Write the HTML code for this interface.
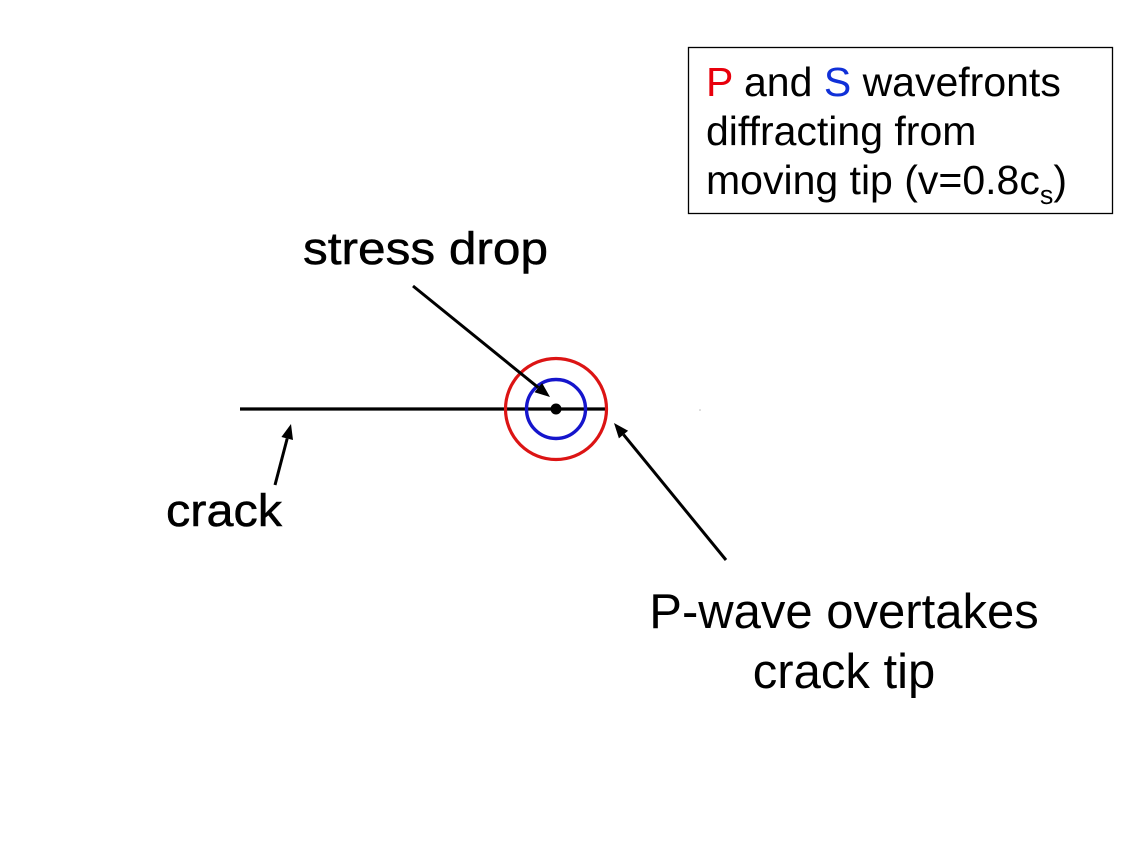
<!DOCTYPE html>
<html>
<head>
<meta charset="utf-8">
<style>
  html, body { margin: 0; padding: 0; background: #ffffff; }
  body { width: 1131px; height: 848px; overflow: hidden; }
  svg { display: block; }
  text { font-family: "Liberation Sans", Arial, sans-serif; fill: #000; }
</style>
</head>
<body>
<svg width="1131" height="848" viewBox="0 0 1131 848" xmlns="http://www.w3.org/2000/svg">
  <rect x="0" y="0" width="1131" height="848" fill="#ffffff"/>

  <!-- legend box -->
  <rect x="688.5" y="47.5" width="424" height="166" fill="none" stroke="#000" stroke-width="1.3"/>
  <text x="706" y="96" font-size="41"><tspan fill="#e8000c">P</tspan> and <tspan fill="#1030d8">S</tspan> wavefronts</text>
  <text x="706" y="145" font-size="41">diffracting from</text>
  <text x="706" y="194" font-size="41">moving tip (v=0.8c<tspan font-size="27" dy="10">s</tspan><tspan dy="-10">)</tspan></text>

  <!-- crack line -->
  <line x1="240" y1="409" x2="608" y2="409" stroke="#000" stroke-width="3.2"/>

  <!-- wavefronts -->
  <circle cx="556" cy="409" r="50.5" fill="none" stroke="#dc1414" stroke-width="3.2"/>
  <circle cx="556" cy="409" r="29.5" fill="none" stroke="#1515cc" stroke-width="3.4"/>
  <circle cx="556" cy="409" r="5.5" fill="#000"/>

  <!-- stress drop label + arrow -->
  <text x="303" y="264" font-size="45" textLength="245" lengthAdjust="spacingAndGlyphs" stroke="#000" stroke-width="0.5">stress drop</text>
  <line x1="413" y1="286" x2="538.3" y2="387.6" stroke="#000" stroke-width="3"/>
  <polygon points="550,397 534.5,392.3 542.1,383.0" fill="#000"/>

  <!-- crack label + arrow -->
  <text x="166" y="526" font-size="45" textLength="116" lengthAdjust="spacingAndGlyphs" stroke="#000" stroke-width="0.5">crack</text>
  <line x1="275" y1="485" x2="287.2" y2="438.5" stroke="#000" stroke-width="3"/>
  <polygon points="291,424 293.0,440.0 281.4,437.0" fill="#000"/>

  <!-- P-wave label + arrow -->
  <line x1="726" y1="560" x2="623.5" y2="434.6" stroke="#000" stroke-width="3"/>
  <polygon points="614,423 628.1,430.8 618.9,438.4" fill="#000"/>
  <text x="844" y="628" font-size="49" text-anchor="middle">P-wave overtakes</text>
  <text x="844" y="688" font-size="49" text-anchor="middle">crack tip</text>

  <!-- faint speck -->
  <circle cx="700" cy="410" r="0.8" fill="#bbbbbb"/>
</svg>
</body>
</html>
